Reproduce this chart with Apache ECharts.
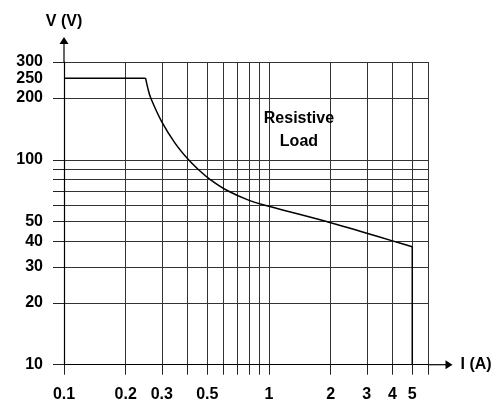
<!DOCTYPE html>
<html>
<head>
<meta charset="utf-8">
<script src="https://cdn.jsdelivr.net/npm/echarts@6/dist/echarts.min.js"></script>
<style>
html, body { margin: 0; padding: 0; background: #fff; }
#chart { width: 493px; height: 403px; }
</style>
</head>
<body>
<div id="chart"></div>
<script>
//== grid lines and tick labels
var xGrid = [0.1, 0.2, 0.3, 0.4, 0.5, 0.6, 0.7, 0.8, 0.9, 1, 2, 3, 4, 5, 6];
var xLabels = [0.1, 0.2, 0.3, 0.5, 1, 2, 3, 4, 5];
var yGrid = [10, 20, 30, 40, 50, 60, 70, 80, 90, 100, 200, 300];
var yLabels = [10, 20, 30, 40, 50, 100, 200, 250, 300];

//== curve
var flatPart = [[0.1, 250], [0.25, 250]];
var curvePart = [[0.25, 250], [0.256, 225], [0.265, 200], [0.3, 153], [0.348, 120.6],
    [0.4, 101.4], [0.452, 89.7], [0.515, 80.3], [0.622, 71], [0.8, 63.4], [1, 59.3],
    [2, 49.3], [3, 43.8], [4, 40.2], [5, 37.6]];
var cutoffPart = [[5, 37.6], [5, 10]];

var chart = echarts.init(document.getElementById('chart'));
var font = {fontFamily: 'Liberation Sans, Arial, sans-serif', fontWeight: 'bold', fontSize: 16, color: '#000'};
var fmt = function (v) { return String(+Number(v).toPrecision(3)); };

chart.setOption({
    animation: false,
    grid: {left: 64, right: 64.5, top: 62, bottom: 38.3, containLabel: false, outerBoundsMode: 'none'},
    xAxis: {
        type: 'log', min: 0.1, max: 6, logBase: 10,
        axisLine: {show: true, lineStyle: {color: '#000', width: 1.2}},
        axisTick: {show: true, length: 10, customValues: xGrid, lineStyle: {color: '#222'}},
        splitLine: {show: true, lineStyle: {color: '#333', width: 1}},
        axisLabel: Object.assign({margin: 22, customValues: xLabels, formatter: fmt}, font),
        name: 'I (A)', nameLocation: 'end', nameGap: 32,
        nameTextStyle: Object.assign({align: 'left', verticalAlign: 'middle'}, font)
    },
    yAxis: {
        type: 'log', min: 10, max: 300, logBase: 10,
        axisLine: {show: true, lineStyle: {color: '#000', width: 1.2}},
        axisTick: {show: true, length: 11, customValues: yGrid, lineStyle: {color: '#222'}},
        splitLine: {show: true, lineStyle: {color: '#333', width: 1}},
        axisLabel: Object.assign({margin: 21, customValues: yLabels, formatter: fmt}, font),
        name: 'V (V)', nameLocation: 'end', nameGap: 32,
        nameTextStyle: Object.assign({align: 'center'}, font)
    },
    series: [
        {type: 'line', data: flatPart, symbol: 'none', lineStyle: {color: '#000', width: 1.5}},
        {type: 'line', data: curvePart, symbol: 'none', smooth: 0.4, lineStyle: {color: '#000', width: 1.5}},
        {type: 'line', data: cutoffPart, symbol: 'none', lineStyle: {color: '#000', width: 1.5}}
    ]
});

//== arrows on the axes and the in-plot note
var origin = chart.convertToPixel({gridIndex: 0}, [0.1, 10]);
var corner = chart.convertToPixel({gridIndex: 0}, [6, 300]);
var note = chart.convertToPixel({gridIndex: 0}, [1.4, 140]);
var yTip = corner[1] - 25;
var xTip = corner[0] + 24;

chart.setOption({
    graphic: [
        {type: 'line', shape: {x1: origin[0], y1: corner[1], x2: origin[0], y2: yTip + 4}, style: {stroke: '#000', lineWidth: 1.2}},
        {type: 'polygon', shape: {points: [[origin[0], yTip], [origin[0] - 4.5, yTip + 7], [origin[0] + 4.5, yTip + 7]]}, style: {fill: '#000'}},
        {type: 'line', shape: {x1: corner[0], y1: origin[1], x2: xTip - 4, y2: origin[1]}, style: {stroke: '#000', lineWidth: 1.2}},
        {type: 'polygon', shape: {points: [[xTip, origin[1]], [xTip - 7, origin[1] - 4.5], [xTip - 7, origin[1] + 4.5]]}, style: {fill: '#000'}},
        {type: 'text', x: note[0], y: note[1], style: {text: 'Resistive\nLoad', align: 'center', verticalAlign: 'middle',
            lineHeight: 23, font: 'bold 16px "Liberation Sans", Arial, sans-serif', fill: '#000'}}
    ]
});
</script>
</body>
</html>
